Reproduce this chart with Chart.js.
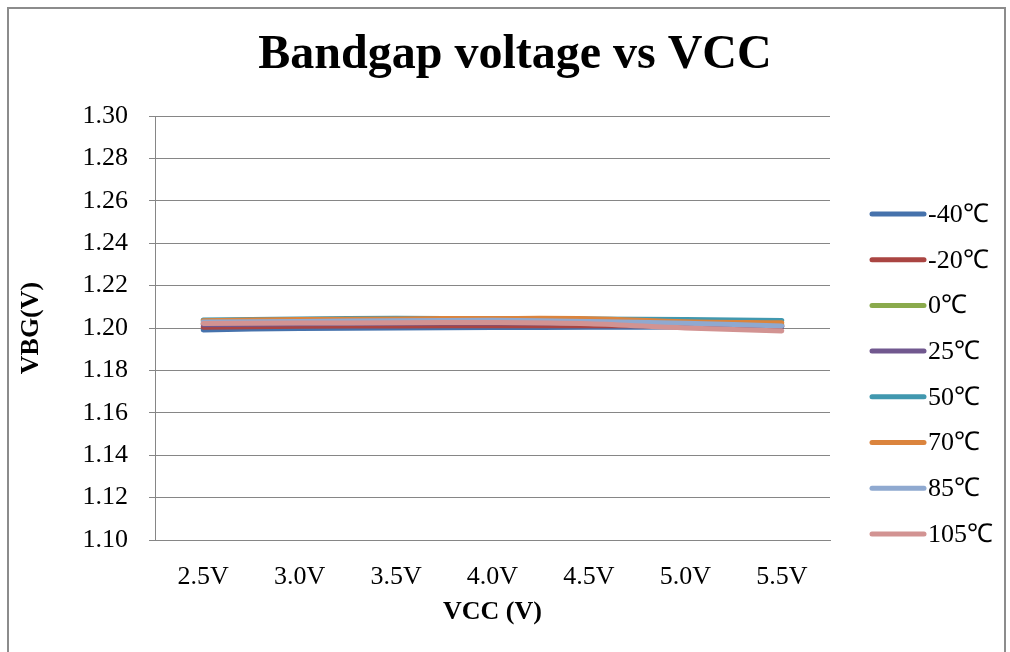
<!DOCTYPE html>
<html>
<head>
<meta charset="utf-8">
<script src="https://cdn.jsdelivr.net/npm/chart.js@4/dist/chart.umd.min.js"></script>
<style>
  html, body { margin: 0; padding: 0; background: #fff; }
  #wrap { width: 1010px; height: 652px; position: relative; }
</style>
</head>
<body>
<div id="wrap"><canvas id="chart"></canvas></div>
<script>
// DATA
const categories = ['2.5V', '3.0V', '3.5V', '4.0V', '4.5V', '5.0V', '5.5V'];
const seriesNames = ['-40℃', '-20℃', '0℃', '25℃', '50℃', '70℃', '85℃', '105℃'];
const vbgM40 = [1.1991, 1.1998, 1.2000, 1.2002, 1.2003, 1.2005, 1.2006];
const vbgM20 = [1.2004, 1.2008, 1.2010, 1.2011, 1.2011, 1.2009, 1.2007];
const vbg0 = [1.2020, 1.2025, 1.2028, 1.2030, 1.2028, 1.2022, 1.2015];
const vbg25 = [1.2015, 1.2020, 1.2022, 1.2024, 1.2022, 1.2016, 1.2010];
const vbg50 = [1.2038, 1.2042, 1.2046, 1.2044, 1.2043, 1.2040, 1.2035];
const vbg70 = [1.2034, 1.2040, 1.2043, 1.2045, 1.2044, 1.2030, 1.2025];
const vbg85 = [1.2028, 1.2031, 1.2034, 1.2036, 1.2031, 1.2022, 1.2010];
const vbg105 = [1.2021, 1.2023, 1.2025, 1.2026, 1.2020, 1.2000, 1.1986];
const yTicks = [1.10, 1.12, 1.14, 1.16, 1.18, 1.20, 1.22, 1.24, 1.26, 1.28, 1.30];

const allSeries = [vbgM40, vbgM20, vbg0, vbg25, vbg50, vbg70, vbg85, vbg105];
const colors = ['#4672AC', '#AA4542', '#8AAA4C', '#71588F', '#4198AF', '#DB843D', '#8FA9D0', '#D29392'];

const serif = '"Liberation Serif", "Times New Roman", serif';

// outer frame like the Excel chart area border, plus title
const framePlugin = {
    id: 'frame',
    beforeDraw(chart) {
        const ctx = chart.ctx;
        ctx.save();
        ctx.strokeStyle = '#8c8c8c';
        ctx.lineWidth = 2;
        ctx.strokeRect(8, 8, 997, 700);
        ctx.restore();
    },
    afterDraw(chart) {
        const ctx = chart.ctx;
        ctx.save();
        ctx.fillStyle = '#000';
        ctx.font = 'bold 48px ' + serif;
        ctx.textAlign = 'center';
        ctx.textBaseline = 'middle';
        ctx.fillText('Bandgap voltage vs VCC', 515, 56);
        ctx.restore();
    }
};

// legend on the right, Excel style
const legendPlugin = {
    id: 'sideLegend',
    afterDraw(chart) {
        const ctx = chart.ctx;
        const sets = chart.data.datasets;
        ctx.save();
        ctx.font = '26px ' + serif;
        ctx.textAlign = 'left';
        ctx.textBaseline = 'middle';
        ctx.lineCap = 'round';
        ctx.lineWidth = 5;
        sets.forEach((ds, i) => {
            const y = 214 + i * 45.7;
            ctx.strokeStyle = ds.borderColor;
            ctx.beginPath();
            ctx.moveTo(872, y);
            ctx.lineTo(924, y);
            ctx.stroke();
            ctx.fillStyle = '#000';
            ctx.fillText(ds.label, 928, y + 1);
        });
        ctx.restore();
    }
};

const datasets = allSeries.map((vals, i) => ({
    label: seriesNames[i],
    data: vals,
    borderColor: colors[i],
    backgroundColor: colors[i],
    borderWidth: 5,
    borderCapStyle: 'round',
    pointRadius: 0,
    pointHoverRadius: 0,
    tension: 0.35,
    fill: false,
    order: allSeries.length - 1 - i   // last series drawn on top
}));

Chart.defaults.font.family = serif;
Chart.defaults.color = '#000';

new Chart(document.getElementById('chart').getContext('2d'), {
    type: 'line',
    data: {labels: categories, datasets: datasets},
    options: {
        responsive: true,
        maintainAspectRatio: false,
        animation: false,
        layout: {padding: {left: 0, right: 180, top: 116, bottom: 0}},
        plugins: {
            title: {display: false},
            legend: {display: false},
            tooltip: {enabled: false}
        },
        scales: {
            x: {
                offset: true,
                grid: {display: false, drawTicks: false},
                border: {display: true, color: '#868686', width: 1},
                ticks: {font: {size: 26, family: serif}, padding: 22, color: '#000'},
                title: {
                    display: true,
                    text: 'VCC (V)',
                    font: {size: 26, weight: 'bold', family: serif},
                    color: '#000',
                    padding: {top: 4, bottom: 24}
                },
                afterFit(scale) { scale.height = 112; }
            },
            y: {
                min: 1.10,
                max: 1.30,
                afterBuildTicks(scale) { scale.ticks = yTicks.map(v => ({value: v})); },
                grid: {color: '#868686', lineWidth: 1, tickLength: 6},
                border: {display: true, color: '#868686', width: 1},
                ticks: {
                    font: {size: 26, family: serif},
                    color: '#000',
                    padding: 21,
                    callback: (v) => Number(v).toFixed(2)
                },
                title: {
                    display: true,
                    text: 'VBG(V)',
                    font: {size: 26, weight: 'bold', family: serif},
                    color: '#000',
                    padding: {top: 16, bottom: 0}
                },
                afterFit(scale) { scale.width = 155; }
            }
        }
    },
    plugins: [framePlugin, legendPlugin]
});
</script>
</body>
</html>
